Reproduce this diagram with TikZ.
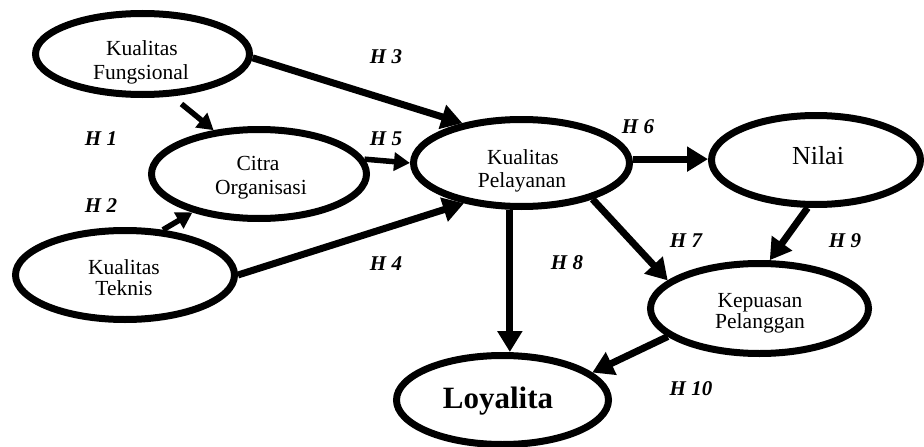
\documentclass[tikz,border=0pt]{standalone}
\usepackage{fontspec}
\setmainfont{Liberation Serif}
\usetikzlibrary{shapes.geometric,arrows.meta}
\begin{document}
\begin{tikzpicture}[x=1pt,y=-1pt,
  ell/.style={draw,ellipse,line width=7pt,inner sep=0pt},
  txt/.style={anchor=base,inner sep=0pt,font=\fontsize{21.5}{23}\selectfont},
  hyp/.style={anchor=base,inner sep=0pt,font=\fontsize{21}{22}\selectfont\bfseries\itshape},
  arr/.style={line width=7pt,-{Triangle[length=21pt,width=24pt]}},
  sarr/.style={line width=5.5pt,-{Triangle[length=16pt,width=18pt]}}]
\useasboundingbox (0,0) rectangle (924,447);
% ellipses
\node[ell,minimum width=214pt,minimum height=81pt] (kf) at (142.5,54) {};
\node[ell,minimum width=215pt,minimum height=89pt] (co) at (259,174) {};
\node[ell,minimum width=219pt,minimum height=89pt] (kt) at (125,275) {};
\node[ell,minimum width=216pt,minimum height=87pt] (kp) at (521.5,163) {};
\node[ell,minimum width=209pt,minimum height=89pt] (ni) at (816,160) {};
\node[ell,minimum width=218pt,minimum height=90pt] (ks) at (759.5,308.5) {};
\node[ell,minimum width=212pt,minimum height=89pt] (lo) at (502.5,400) {};
% texts
\node[txt] (kf1) at (142,55) {Kualitas};
\node[txt] (kf2) at (141,79) {Fungsional};
\node[txt] (co1) at (258,170) {Citra};
\node[txt] (co2) at (261,194) {Organisasi};
\node[txt] (kt1) at (124,274) {Kualitas};
\node[txt] (kt2) at (124,295) {Teknis};
\node[txt] (kp1) at (523,164) {Kualitas};
\node[txt] (kp2) at (522,187) {Pelayanan};
\node[txt] (ks1) at (760,307) {Kepuasan};
\node[txt] (ks2) at (760,328) {Pelanggan};
\node[anchor=base,inner sep=0pt,font=\fontsize{26}{28}\selectfont] (ni1) at (818,164) {Nilai};
\node[anchor=base,inner sep=0pt,font=\fontsize{31}{33}\selectfont\bfseries] (lo1) at (498,408) {Loyalita};
% connectors
\draw[sarr,shorten <=12pt] (kf.-55) -- (co.136);
\draw[sarr] (kt.50) -- (co.210);
\draw[arr] (kf.-2) -- (kp.146);
\draw[arr] (kt.0) -- (kp.215);
\draw[sarr] (co.8) -- (kp.180);
\draw[arr] (kp.2) -- (kp.2 -| ni.west);
\draw[arr] (kp.-27) -- (ks.163);
\draw[arr] (kp.256) -- (kp.256 |- lo.north);
\draw[arr] (ni.260) -- (ks.78);
\draw[arr] (ks.197) -- (lo.17);
% hypothesis labels
\node[hyp] (h1) at (101,145) {H 1};
\node[hyp] (h2) at (101,212) {H 2};
\node[hyp] (h3) at (386,63) {H 3};
\node[hyp] (h4) at (386,270) {H 4};
\node[hyp] (h5) at (386,145) {H 5};
\node[hyp] (h6) at (638,133) {H 6};
\node[hyp] (h7) at (686,247) {H 7};
\node[hyp] (h8) at (567,269) {H 8};
\node[hyp] (h9) at (845,247) {H 9};
\node[hyp] (h10) at (691,395) {H 10};
\end{tikzpicture}
\end{document}
